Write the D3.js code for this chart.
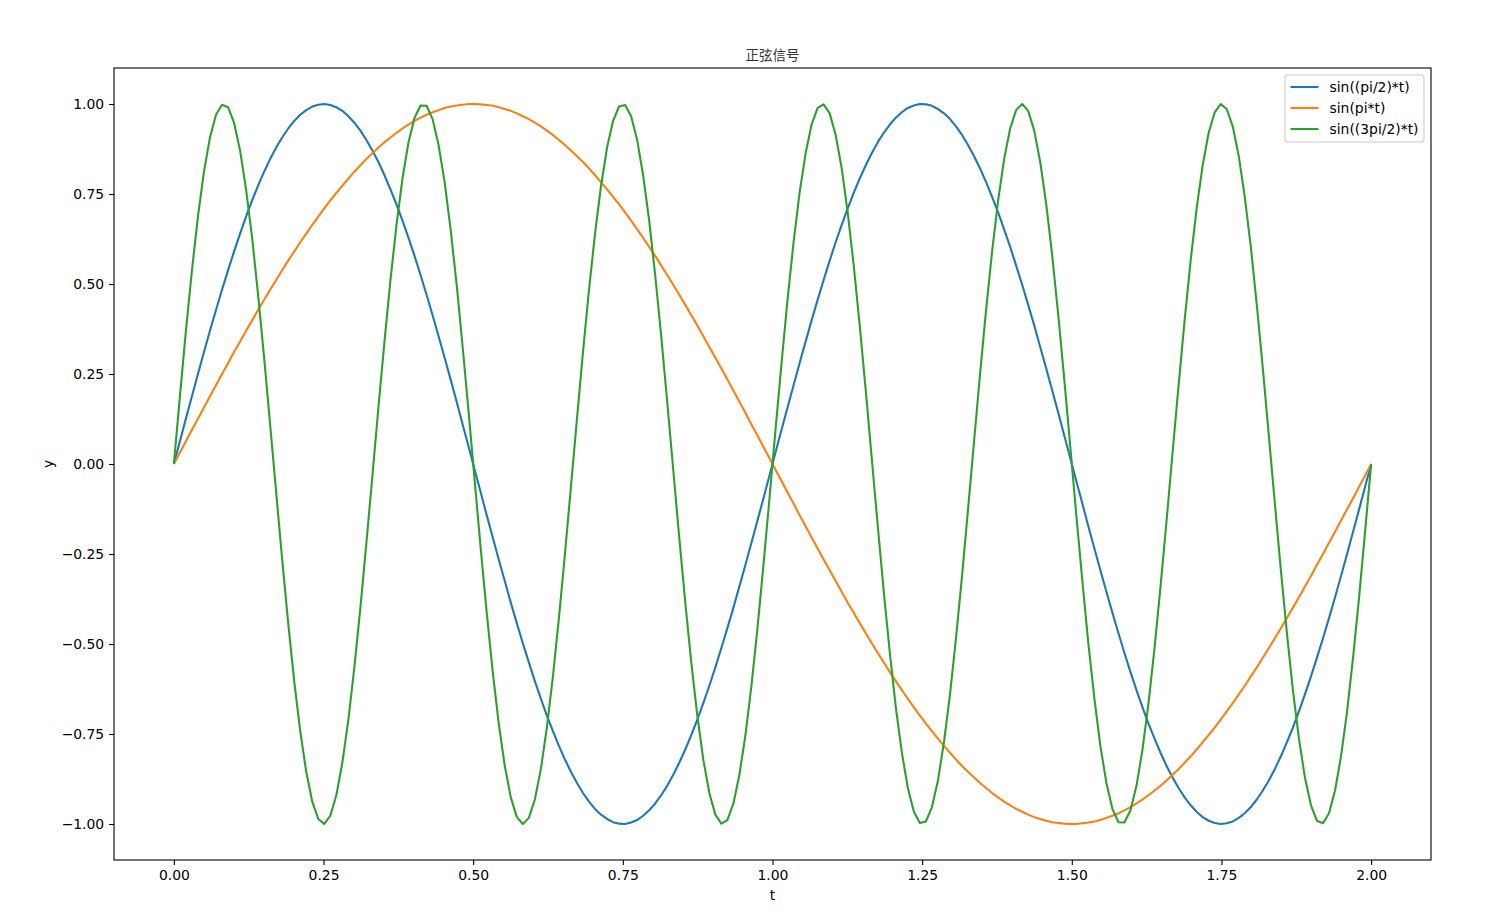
<!DOCTYPE html>
<html>
<head>
<meta charset="utf-8">
<script src="https://cdn.jsdelivr.net/npm/d3@7"></script>
<style>
html,body{margin:0;padding:0;background:#fff;}
svg{display:block;}
text{font-family:"DejaVu Sans",sans-serif;}
</style>
</head>
<body>
<svg id="chart" width="1496" height="915"></svg>
<script>
// ---- data: 200 sample times over [0, 2] and the three series ----
const t = [
0,.0101,.0201,.0302,.0402,.0503,.0603,.0704,.0804,.0905,
.1005,.1106,.1206,.1307,.1407,.1508,.1608,.1709,.1809,.191,
.201,.2111,.2211,.2312,.2412,.2513,.2613,.2714,.2814,.2915,
.3015,.3116,.3216,.3317,.3417,.3518,.3618,.3719,.3819,.392,
.402,.4121,.4221,.4322,.4422,.4523,.4623,.4724,.4824,.4925,
.5025,.5126,.5226,.5327,.5427,.5528,.5628,.5729,.5829,.593,
.603,.6131,.6231,.6332,.6432,.6533,.6633,.6734,.6834,.6935,
.7035,.7136,.7236,.7337,.7437,.7538,.7638,.7739,.7839,.794,
.804,.8141,.8241,.8342,.8442,.8543,.8643,.8744,.8844,.8945,
.9045,.9146,.9246,.9347,.9447,.9548,.9648,.9749,.9849,.995,
1.005,1.0151,1.0251,1.0352,1.0452,1.0553,1.0653,1.0754,1.0854,1.0955,
1.1055,1.1156,1.1256,1.1357,1.1457,1.1558,1.1658,1.1759,1.1859,1.196,
1.206,1.2161,1.2261,1.2362,1.2462,1.2563,1.2663,1.2764,1.2864,1.2965,
1.3065,1.3166,1.3266,1.3367,1.3467,1.3568,1.3668,1.3769,1.3869,1.397,
1.407,1.4171,1.4271,1.4372,1.4472,1.4573,1.4673,1.4774,1.4874,1.4975,
1.5075,1.5176,1.5276,1.5377,1.5477,1.5578,1.5678,1.5779,1.5879,1.598,
1.608,1.6181,1.6281,1.6382,1.6482,1.6583,1.6683,1.6784,1.6884,1.6985,
1.7085,1.7186,1.7286,1.7387,1.7487,1.7588,1.7688,1.7789,1.7889,1.799,
1.809,1.8191,1.8291,1.8392,1.8492,1.8593,1.8693,1.8794,1.8894,1.8995,
1.9095,1.9196,1.9296,1.9397,1.9497,1.9598,1.9698,1.9799,1.9899,2];

const blueY = [
0,.063,.126,.188,.25,.311,.37,.428,.484,.538,
.59,.64,.687,.732,.773,.812,.847,.879,.907,.932,
.953,.97,.983,.993,.998,1,.997,.991,.981,.966,
.948,.926,.9,.871,.839,.802,.763,.721,.676,.628,
.578,.525,.47,.413,.355,.295,.235,.173,.11,.047,
-.016,-.079,-.142,-.204,-.265,-.325,-.385,-.442,-.498,-.551,
-.603,-.652,-.699,-.742,-.783,-.821,-.855,-.886,-.914,-.938,
-.958,-.974,-.986,-.995,-.999,-1,-.996,-.989,-.977,-.962,
-.943,-.92,-.894,-.863,-.83,-.793,-.753,-.71,-.664,-.616,
-.565,-.511,-.456,-.399,-.34,-.28,-.219,-.157,-.095,-.032,
.032,.095,.157,.219,.28,.34,.399,.456,.511,.565,
.616,.664,.71,.753,.793,.83,.863,.894,.92,.943,
.962,.977,.989,.996,1,.999,.995,.986,.974,.958,
.938,.914,.886,.855,.821,.783,.742,.699,.652,.603,
.551,.498,.442,.385,.325,.265,.204,.142,.079,.016,
-.047,-.11,-.173,-.235,-.295,-.355,-.413,-.47,-.525,-.578,
-.628,-.676,-.721,-.763,-.802,-.839,-.871,-.9,-.926,-.948,
-.966,-.981,-.991,-.997,-1,-.998,-.993,-.983,-.97,-.953,
-.932,-.907,-.879,-.847,-.812,-.773,-.732,-.687,-.64,-.59,
-.538,-.484,-.428,-.37,-.311,-.25,-.188,-.126,-.063,0];

const orangeY = [
0,.032,.063,.095,.126,.157,.188,.219,.25,.28,
.311,.34,.37,.399,.428,.456,.484,.511,.538,.565,
.59,.616,.64,.664,.687,.71,.732,.753,.773,.793,
.812,.83,.847,.863,.879,.894,.907,.92,.932,.943,
.953,.962,.97,.977,.983,.989,.993,.996,.998,1,
1,.999,.997,.995,.991,.986,.981,.974,.966,.958,
.948,.938,.926,.914,.9,.886,.871,.855,.839,.821,
.802,.783,.763,.742,.721,.699,.676,.652,.628,.603,
.578,.551,.525,.498,.47,.442,.413,.385,.355,.325,
.295,.265,.235,.204,.173,.142,.11,.079,.047,.016,
-.016,-.047,-.079,-.11,-.142,-.173,-.204,-.235,-.265,-.295,
-.325,-.355,-.385,-.413,-.442,-.47,-.498,-.525,-.551,-.578,
-.603,-.628,-.652,-.676,-.699,-.721,-.742,-.763,-.783,-.802,
-.821,-.839,-.855,-.871,-.886,-.9,-.914,-.926,-.938,-.948,
-.958,-.966,-.974,-.981,-.986,-.991,-.995,-.997,-.999,-1,
-1,-.998,-.996,-.993,-.989,-.983,-.977,-.97,-.962,-.953,
-.943,-.932,-.92,-.907,-.894,-.879,-.863,-.847,-.83,-.812,
-.793,-.773,-.753,-.732,-.71,-.687,-.664,-.64,-.616,-.59,
-.565,-.538,-.511,-.484,-.456,-.428,-.399,-.37,-.34,-.311,
-.28,-.25,-.219,-.188,-.157,-.126,-.095,-.063,-.032,0];

const greenY = [
0,.188,.37,.538,.687,.812,.907,.97,.998,.991,
.948,.871,.763,.628,.47,.295,.11,-.079,-.265,-.442,
-.603,-.742,-.855,-.938,-.986,-1,-.977,-.92,-.83,-.71,
-.565,-.399,-.219,-.032,.157,.34,.511,.664,.793,.894,
.962,.996,.995,.958,.886,.783,.652,.498,.325,.142,
-.047,-.235,-.413,-.578,-.721,-.839,-.926,-.981,-1,-.983,
-.932,-.847,-.732,-.59,-.428,-.25,-.063,.126,.311,.484,
.64,.773,.879,.953,.993,.997,.966,.9,.802,.676,
.525,.355,.173,-.016,-.204,-.385,-.551,-.699,-.821,-.914,
-.974,-.999,-.989,-.943,-.863,-.753,-.616,-.456,-.28,-.095,
.095,.28,.456,.616,.753,.863,.943,.989,.999,.974,
.914,.821,.699,.551,.385,.204,.016,-.173,-.355,-.525,
-.676,-.802,-.9,-.966,-.997,-.993,-.953,-.879,-.773,-.64,
-.484,-.311,-.126,.063,.25,.428,.59,.732,.847,.932,
.983,1,.981,.926,.839,.721,.578,.413,.235,.047,
-.142,-.325,-.498,-.652,-.783,-.886,-.958,-.995,-.996,-.962,
-.894,-.793,-.664,-.511,-.34,-.157,.032,.219,.399,.565,
.71,.83,.92,.977,1,.986,.938,.855,.742,.603,
.442,.265,.079,-.11,-.295,-.47,-.628,-.763,-.871,-.948,
-.991,-.998,-.97,-.907,-.812,-.687,-.538,-.37,-.188,0];

const seriesNames = ["sin((pi/2)*t)", "sin(pi*t)", "sin((3pi/2)*t)"];
const seriesColors = ["#1f77b4", "#ff7f0e", "#2ca02c"];
const xTicks = [0, 0.25, 0.5, 0.75, 1.0, 1.25, 1.5, 1.75, 2.0];
const yTicks = [-1.0, -0.75, -0.5, -0.25, 0, 0.25, 0.5, 0.75, 1.0];
const titleText = "正弦信号";
const xLabel = "t";
const yLabel = "y";

// ---- layout ----
const L = 114, R = 1431, T = 68, B = 860;
const svg = d3.select("#chart");
const x = d3.scaleLinear().domain([-0.1, 2.1]).range([L, R]);
const y = d3.scaleLinear().domain([-1.1, 1.1]).range([B, T]);
const fmt = v => d3.format(".2f")(v).replace("-", "\u2212");

const series = [blueY, orangeY, greenY];
svg.append("clipPath").attr("id", "clip")
  .append("rect").attr("x", L).attr("y", T).attr("width", R - L).attr("height", B - T);

const line = d3.line().x(d => x(d[0])).y(d => y(d[1]));
const g = svg.append("g").attr("clip-path", "url(#clip)");
series.forEach((vals, si) => {
  g.append("path")
    .datum(t.map((tv, i) => [tv, vals[i]]))
    .attr("d", line)
    .attr("fill", "none")
    .attr("stroke", seriesColors[si])
    .attr("stroke-width", 2.08)
    .attr("stroke-linejoin", "round")
    .attr("stroke-linecap", "butt");
});

// axes
const xAxis = d3.axisBottom(x).tickValues(xTicks).tickFormat(fmt).tickSizeInner(4.9).tickSizeOuter(0).tickPadding(4.9);
const yAxis = d3.axisLeft(y).tickValues(yTicks).tickFormat(fmt).tickSizeInner(4.9).tickSizeOuter(0).tickPadding(4.9);
const gx = svg.append("g").attr("transform", `translate(0,${B})`).call(xAxis);
const gy = svg.append("g").attr("transform", `translate(${L},0)`).call(yAxis);
[gx, gy].forEach(a => {
  a.select(".domain").remove();
  a.selectAll(".tick line").attr("stroke", "#000").attr("stroke-width", 1.1);
  a.selectAll(".tick text").attr("fill", "#000").style("font-size", "13.9px").style("font-family", "DejaVu Sans");
});

// frame
svg.append("rect").attr("x", L).attr("y", T).attr("width", R - L).attr("height", B - T)
  .attr("fill", "none").attr("stroke", "#000").attr("stroke-width", 1.1);

// labels
svg.append("text").attr("x", (L + R) / 2).attr("y", 60).attr("text-anchor", "middle")
  .style("font-family", "'Noto Sans CJK SC'").style("font-size", "13.5px").attr("fill", "#333").text(titleText);
svg.append("text").attr("x", (L + R) / 2).attr("y", 900).attr("text-anchor", "middle")
  .style("font-size", "13.9px").text(xLabel);
svg.append("text").attr("transform", "translate(53,464) rotate(-90)").attr("text-anchor", "middle")
  .style("font-size", "13.9px").text(yLabel);

// legend
const lgW = 139, lgH = 67, lgX = R - 7 - lgW, lgY = T + 7;
const lg = svg.append("g");
lg.append("rect").attr("x", lgX).attr("y", lgY).attr("width", lgW).attr("height", lgH)
  .attr("rx", 2.8).attr("fill", "#fff").attr("fill-opacity", 0.8).attr("stroke", "#ccc").attr("stroke-width", 1.1);
seriesNames.forEach((nm, i) => {
  const cy = lgY + 12 + i * 21;
  lg.append("line").attr("x1", lgX + 5.5).attr("x2", lgX + 33.5).attr("y1", cy).attr("y2", cy)
    .attr("stroke", seriesColors[i]).attr("stroke-width", 2.08);
  lg.append("text").attr("x", lgX + 44.5).attr("y", cy).attr("dy", "0.35em")
    .style("font-size", "13.9px").attr("fill", "#000").text(nm);
});
</script>
</body>
</html>
